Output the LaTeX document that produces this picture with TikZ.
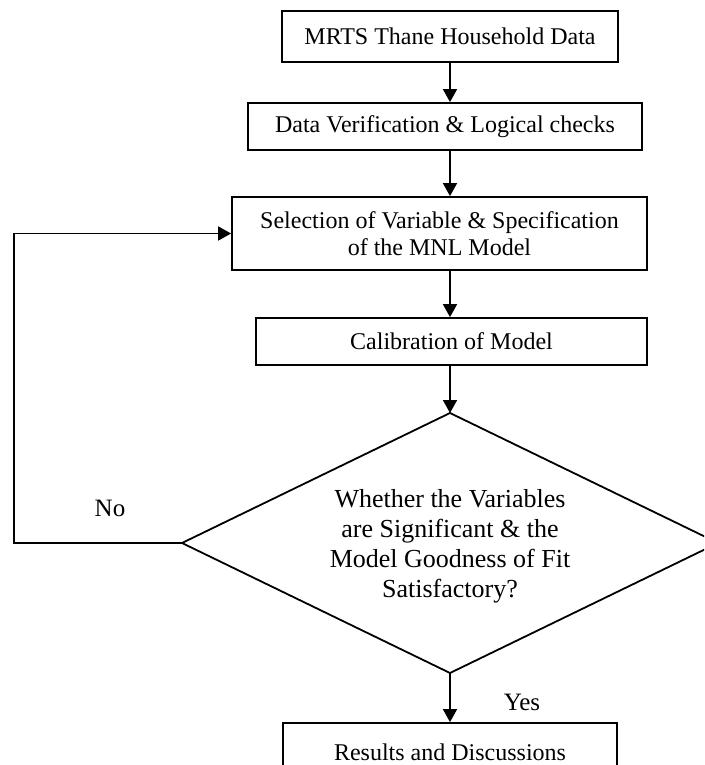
\documentclass[tikz,border=0pt]{standalone}
\usepackage{fontspec}
\setmainfont{Liberation Serif}
\usetikzlibrary{arrows.meta}
\begin{document}
\begin{tikzpicture}[x=1pt,y=-1pt,
  box/.style={draw, line width=1.8pt, inner sep=0pt, align=center,
              font=\fontsize{24}{27.6}\selectfont},
  arr/.style={line width=1.8pt, -{Triangle[length=13pt,width=14pt]}},
  edge/.style={line width=1.8pt},
  lbl/.style={font=\fontsize{25}{28}\selectfont, inner sep=0pt}]
\useasboundingbox (0,0) rectangle (704,765);
\clip (0,0) rectangle (704,765);
% column for vertical arrows and loop line
\coordinate (ax) at (450,0);
\coordinate (lp) at (14,0);
% boxes
\node[box, minimum width=336pt, minimum height=51pt] (b1) at (450,36.5) {MRTS Thane Household Data};
\node[box, minimum width=394pt, minimum height=47pt] (b2) at (445,126.5) {Data Verification \& Logical checks};
\node[box, minimum width=415pt, minimum height=73pt] (b3) at (439.5,233.5) {Selection of Variable \& Specification\\of the MNL Model};
\node[box, minimum width=391pt, minimum height=47pt] (b4) at (451.5,341.5) {Calibration of Model};
% decision diamond
\coordinate (dt) at (450,413);
\coordinate (dr) at (718,543);
\coordinate (db) at (450,673);
\coordinate (dl) at (182,543);
\draw[edge, line join=miter] (dt) -- (dr) -- (db) -- (dl) -- cycle;
\node[font=\fontsize{26}{30}\selectfont, align=center, inner sep=0pt] (dq) at (450,546)
  {Whether the Variables\\are Significant \& the\\Model Goodness of Fit\\Satisfactory?};
\node[box, minimum width=334pt, minimum height=58pt] (b5) at (450,752) {Results and Discussions};
% labels
\node[lbl] (no) at (110,508) {No};
\node[lbl] (yes) at (522,702) {Yes};
% connectors
\draw[arr] (b1.south -| ax) -- (b2.north -| ax);
\draw[arr] (b2.south -| ax) -- (b3.north -| ax);
\draw[arr] (b3.south -| ax) -- (b4.north -| ax);
\draw[arr] (b4.south -| ax) -- (dt);
\draw[arr] (db) -- (b5.north -| ax);
\draw[arr] (dl) -- (dl -| lp) |- (b3.west);
\end{tikzpicture}
\end{document}
